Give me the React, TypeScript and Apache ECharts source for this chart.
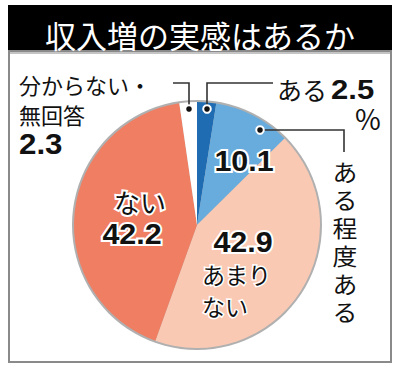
import React, { useEffect, useRef } from "react";
import * as echarts from "echarts";

const title = "収入増の実感はあるか";
const categories = ["ある", "ある程度ある", "あまりない", "ない", "分からない・無回答"];
const values = [2.5, 10.1, 42.9, 42.2, 2.3];

const FONT = '"Noto Sans CJK JP", "Noto Sans", sans-serif';
const NUMFONT = '"Liberation Sans", Arial, sans-serif';
const sliceColors = ["#1f6cb2", "#68abdd", "#f9c9b3", "#ef7e63", "#ffffff"];

export default function App() {
  const ref = useRef<HTMLDivElement>(null);
  useEffect(() => {
    if (!ref.current) return;
    const chart = echarts.init(ref.current, null, { renderer: "svg" });
    const cx = 197;
    const cy = 225;
    const fmt = (v: number) => v.toFixed(1);
    const lineStyle = { stroke: "#333", lineWidth: 1.6, fill: null };

    const txt = (
      x: number,
      y: number,
      text: string,
      size: number,
      opts: {
        align?: string;
        bold?: boolean;
        num?: boolean;
        outline?: number;
        color?: string;
        scaleX?: number;
        scaleY?: number;
      } = {}
    ) => ({
      type: "text",
      x,
      y,
      scaleX: opts.scaleX ?? 1,
      scaleY: opts.scaleY ?? 1,
      z: 10,
      style: {
        text,
        fill: opts.color ?? "#111",
        fontSize: size,
        fontFamily: opts.num ? NUMFONT : FONT,
        fontWeight: opts.bold ? "bold" : "normal",
        lineHeight: size,
        align: opts.align ?? "left",
        verticalAlign: "middle",
        ...(opts.outline ? { stroke: "#fff", lineWidth: opts.outline } : {}),
      },
    });

    const dot = (x: number, y: number) => ({
      type: "circle",
      shape: { cx: x, cy: y, r: 3.8 },
      style: { fill: "#111", stroke: "#fff", lineWidth: 2 },
      z: 20,
    });

    const verticalChars = categories[1].split("").map((ch, i) =>
      txt(345, 171 + i * 28, ch, 23, { align: "center", scaleX: 1.08 })
    );

    chart.setOption({
      animation: false,
      graphic: [
        { type: "rect", shape: { x: 8, y: 5, width: 384, height: 46 }, style: { fill: "#000" }, z: 1 },
        { type: "rect", shape: { x: 8, y: 50, width: 384, height: 4 }, style: { fill: "#c4c4c4" }, z: 1 },
        {
          type: "rect",
          shape: { x: 9, y: 51, width: 382, height: 311 },
          style: { fill: null, stroke: "#8a8a8a", lineWidth: 2 },
          z: 1,
        },
        txt(200, 34, title, 31, { align: "center", color: "#fff" }),
        // 分からない・無回答
        txt(19, 84, categories[4].split("・")[0] + "・", 22),
        txt(19, 114, categories[4].split("・")[1], 22),
        txt(19, 144, fmt(values[4]), 29, { bold: true, num: true, scaleX: 1.08 }),
        { type: "polyline", shape: { points: [[173, 83], [189, 83], [189, 109]] }, style: lineStyle, z: 15 },
        dot(189, 109),
        // ある 2.5 %
        { type: "polyline", shape: { points: [[207, 109], [207, 83], [273, 83]] }, style: lineStyle, z: 15 },
        dot(207, 109),
        txt(277, 89, categories[0], 25),
        txt(331, 90, fmt(values[0]), 27, { bold: true, num: true, scaleX: 1.15 }),
        txt(368, 118, "%", 28, { align: "center" }),
        // ある程度ある
        { type: "polyline", shape: { points: [[260, 130], [344, 130], [344, 152]] }, style: lineStyle, z: 15 },
        dot(260, 130),
        ...verticalChars,
        txt(244, 161, fmt(values[1]), 29, { bold: true, num: true, outline: 4, align: "center", scaleX: 1.05 }),
        // あまりない
        txt(243, 242, fmt(values[2]), 29, { bold: true, num: true, outline: 4, align: "center", scaleX: 1.05 }),
        txt(202, 274, categories[2].slice(0, 3), 23, { outline: 3 }),
        txt(202, 306, categories[2].slice(3), 23, { outline: 3 }),
        // ない
        txt(140, 201, categories[3], 26, { outline: 4, align: "center" }),
        txt(132, 234, fmt(values[3]), 29, { bold: true, num: true, outline: 4, align: "center", scaleX: 1.05 }),
      ],
      series: [
        {
          type: "pie",
          silent: true,
          center: [cx, cy],
          radius: 125,
          startAngle: 90,
          clockwise: true,
          label: { show: false },
          labelLine: { show: false },
          itemStyle: { color: "#b0b0b0" },
          data: [{ value: 1, name: "outline" }],
          z: 2,
        },
        {
          type: "pie",
          silent: true,
          center: [cx, cy],
          radius: 123,
          startAngle: 90,
          clockwise: true,
          label: { show: false },
          labelLine: { show: false },
          data: categories.map((name, i) => ({
            name,
            value: values[i],
            itemStyle: { color: sliceColors[i], borderWidth: 0 },
          })),
          z: 3,
        },
      ],
    });
    return () => chart.dispose();
  }, []);
  return (
    <div
      ref={ref}
      style={{ position: "absolute", left: 0, top: 0, width: 400, height: 372, background: "#fff" }}
    />
  );
}
